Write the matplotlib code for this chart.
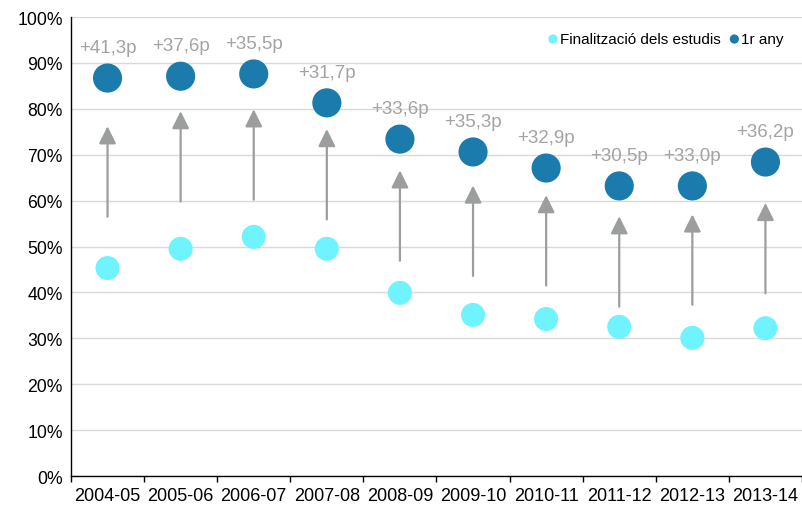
import matplotlib
matplotlib.use("Agg")
import matplotlib.pyplot as plt
from matplotlib.ticker import FuncFormatter, MultipleLocator
import numpy as np

plt.rcParams["font.family"] = ["Liberation Sans", "DejaVu Sans"]

years = ["2004-05", "2005-06", "2006-07", "2007-08", "2008-09",
         "2009-10", "2010-11", "2011-12", "2012-13", "2013-14"]
primer_any = [86.7, 87.1, 87.6, 81.3, 73.4, 70.6, 67.1, 63.2, 63.2, 68.4]
finalitzacio = [45.3, 49.5, 52.1, 49.5, 39.9, 35.1, 34.2, 32.5, 30.1, 32.2]
gaps = [41.3, 37.6, 35.5, 31.7, 33.6, 35.3, 32.9, 30.5, 33.0, 36.2]
arrow_start = [56.5, 59.8, 60.2, 55.9, 46.9, 43.6, 41.5, 36.9, 37.3, 39.8]
ARROW_LEN = 19.7

DARK = "#1B7BAC"
LIGHT = "#6EF3FF"
GREY = "#9C9E9E"
LABEL_GREY = "#A3A3A3"

fig = plt.figure(figsize=(8.02, 5.06), dpi=100)
ax = fig.add_axes([0.0885, 0.0573, 0.9115, 0.9071])

x = np.arange(len(years))

for xi, y0 in zip(x, arrow_start):
    ax.annotate("", xy=(xi, y0 + ARROW_LEN), xytext=(xi, y0),
                arrowprops=dict(arrowstyle="-|>,head_length=10.5,head_width=5.2",
                                mutation_scale=1, color=GREY, lw=1.6,
                                shrinkA=0, shrinkB=0), zorder=2)

ax.scatter(x, finalitzacio, s=300, color=LIGHT, edgecolors="none",
           label="Finalització dels estudis", zorder=3)
ax.scatter(x, primer_any, s=440, color=DARK, edgecolors="none",
           label="1r any", zorder=3)

for xi, yv, g in zip(x, primer_any, gaps):
    lab = "+" + f"{g:.1f}".replace(".", ",") + "p"
    ax.annotate(lab, xy=(xi, yv), xytext=(0, 22), textcoords="offset points",
                ha="center", va="center", fontsize=13.5, color=LABEL_GREY,
                annotation_clip=False)

ax.set_xlim(-0.5, len(years) - 0.5)
ax.set_ylim(0, 100)
ax.yaxis.set_major_locator(MultipleLocator(10))
ax.yaxis.set_major_formatter(FuncFormatter(lambda v, p: f"{v:.0f}%"))
ax.grid(axis="y", color="#D9D9D9", lw=1)
ax.set_axisbelow(True)

# labels at centres, tick marks at the boundaries
ax.set_xticks(x)
ax.set_xticklabels(years)
ax.set_xticks(np.arange(-0.5, len(years)), minor=True)
ax.tick_params(axis="x", which="major", length=0, pad=8, labelsize=13)
ax.tick_params(axis="x", which="minor", length=4.5, width=1, color="black")
ax.tick_params(axis="y", length=0, pad=6, labelsize=12.7)

for s in ["top", "right"]:
    ax.spines[s].set_visible(False)
for s in ["left", "bottom"]:
    ax.spines[s].set_color("black")
    ax.spines[s].set_linewidth(1)

leg = ax.legend(loc="center right", bbox_to_anchor=(0.975, 0.952), ncol=2,
                frameon=False, fontsize=11,
                handletextpad=0.05, columnspacing=0.5, borderpad=0,
                handlelength=0.8, borderaxespad=0)
for h in leg.legend_handles:
    h.set_sizes([44])

fig.savefig("out.png", dpi=100)
